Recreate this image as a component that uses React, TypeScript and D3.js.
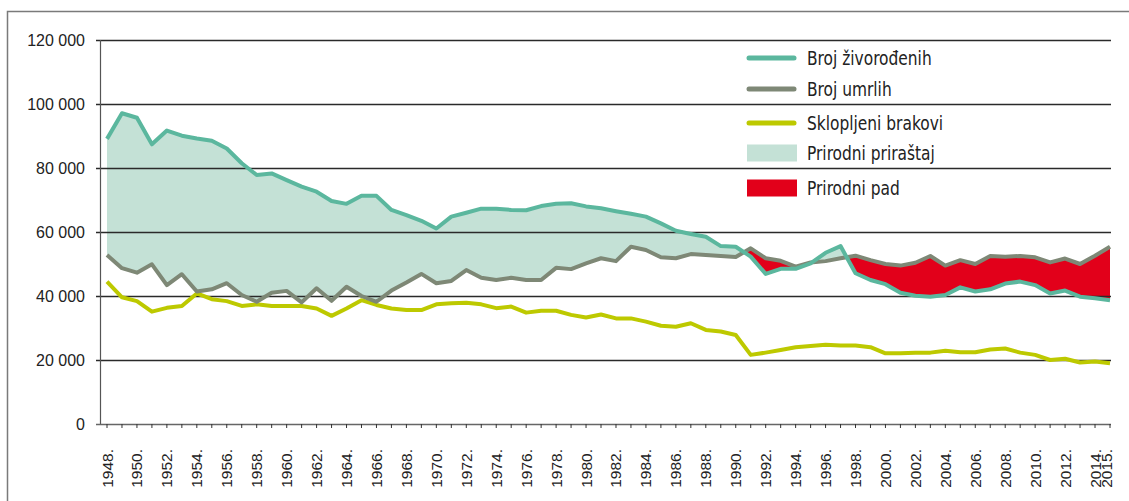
import React from "react";
import * as d3 from "d3";

const years: number[] = d3.range(1948, 2016);

const births: number[] = [
  89100, 97100, 95700, 87400, 91700, 90100, 89200, 88500, 86100, 81500,
  77800, 78300, 76200, 74200, 72600, 69700, 68800, 71300, 71300, 66900,
  65300, 63500, 61100, 64800, 66000, 67300, 67300, 66900, 66800, 68100,
  68800, 69000, 68000, 67400, 66500, 65700, 64800, 62700, 60400, 59400,
  58500, 55600, 55400, 52300, 46900, 48500, 48500, 50200, 53500, 55600,
  47100, 45000, 43700, 41000, 40100, 39800, 40300, 42700, 41400, 42100,
  43900, 44500, 43400, 40800, 41700, 39800, 39300, 38700,
];

const deaths: number[] = [
  52800, 48700, 47300, 49900, 43400, 46800, 41400, 42100, 44000, 40300,
  38200, 41000, 41600, 38000, 42400, 38500, 42900, 40000, 38200, 41700,
  44200, 46900, 44000, 44700, 48100, 45700, 45000, 45700, 45000, 45000,
  48800, 48400, 50200, 51800, 50900, 55400, 54400, 52100, 51800, 53100,
  52800, 52500, 52200, 54900, 51800, 51000, 49200, 50500, 50900, 51800,
  52600, 51200, 50000, 49500, 50400, 52500, 49500, 51200, 50000, 52500,
  52300, 52500, 52100, 50500, 51700, 50000, 52600, 55400,
];

const marriages: number[] = [
  44500, 39600, 38400, 35100, 36300, 36900, 40800, 39000, 38400, 36900,
  37400, 36900, 36900, 36900, 36100, 33800, 36100, 38700, 37200, 36100,
  35600, 35600, 37400, 37700, 37900, 37400, 36200, 36700, 34800, 35400,
  35400, 34100, 33300, 34200, 33000, 33000, 32000, 30700, 30400, 31500,
  29400, 28900, 27800, 21600, 22300, 23100, 24000, 24400, 24800, 24500,
  24500, 24000, 22100, 22100, 22300, 22300, 22900, 22400, 22400, 23300,
  23600, 22300, 21600, 20000, 20400, 19200, 19500, 19000,
];

const yTicks: number[] = [0, 20000, 40000, 60000, 80000, 100000, 120000];
const xLabelYears: number[] = [...d3.range(1948, 2015, 2), 2015];

const legendLines = [
  { label: "Broj živorođenih", color: "#5bb79e" },
  { label: "Broj umrlih", color: "#7e8876" },
  { label: "Sklopljeni brakovi", color: "#bdc900" },
];
const legendAreas = [
  { label: "Prirodni priraštaj", color: "#c4e1d6" },
  { label: "Prirodni pad", color: "#e2001a" },
];

const W = 1129;
const H = 501;
const plotLeft = 100;
const plotRight = 1111;
const plotTop = 40;
const plotBottom = 424;

export default function App() {
  const x = d3.scaleLinear().domain([1948, 2015]).range([107, 1110]);
  const y = d3.scaleLinear().domain([0, 120000]).range([plotBottom, plotTop]);

  const lineGen = (vals: number[]) =>
    d3
      .line<number>()
      .x((_, i) => x(years[i]))
      .y((d) => y(d))(vals) || "";

  const between =
    d3
      .area<number>()
      .x((_, i) => x(years[i]))
      .y0((_, i) => y(deaths[i]))
      .y1((d) => y(d))(births) || "";

  const clipAbove =
    d3
      .area<number>()
      .x((_, i) => x(years[i]))
      .y0(() => 0)
      .y1((d) => y(d))(deaths) || "";
  const clipBelow =
    d3
      .area<number>()
      .x((_, i) => x(years[i]))
      .y0(() => H)
      .y1((d) => y(d))(deaths) || "";

  const axisFont = "'Liberation Sans', Arial, Helvetica, sans-serif";
  const legendFont =
    "'Liberation Sans Narrow', 'Arial Narrow', 'DejaVu Sans Condensed', sans-serif";

  const legendItems = [
    ...legendLines.map((d) => ({ ...d, kind: "line" })),
    ...legendAreas.map((d) => ({ ...d, kind: "area" })),
  ];
  const legendY = [58, 89, 123, 153, 188];

  return (
    <svg
      width={W}
      height={H}
      style={{ position: "absolute", left: 0, top: 0, background: "#fff" }}
    >
      <defs>
        <clipPath id="above">
          <path d={clipAbove} />
        </clipPath>
        <clipPath id="below">
          <path d={clipBelow} />
        </clipPath>
      </defs>
      <rect x={0} y={0} width={W} height={H} fill="#fff" />
      {/* frame */}
      <path d={`M7.5,${H} L7.5,11.5 L${W},11.5`} fill="none" stroke="#7a7a7a" strokeWidth={1.5} />

      {/* fills */}
      <path d={between} fill="#c4e1d6" clipPath="url(#above)" />
      <path d={between} fill="#e2001a" clipPath="url(#below)" />

      {/* gridlines */}
      {yTicks.map((t) =>
        t === 0 ? null : (
          <line
            key={t}
            x1={96}
            x2={plotRight}
            y1={Math.round(y(t)) + 0.5}
            y2={Math.round(y(t)) + 0.5}
            stroke="#2a2a2a"
            strokeWidth={1.4}
          />
        )
      )}
      {/* y axis */}
      <line x1={plotLeft + 0.5} x2={plotLeft + 0.5} y1={plotTop} y2={plotBottom} stroke="#555" strokeWidth={1.2} />
      {/* x axis */}
      <line x1={96} x2={plotRight} y1={plotBottom + 0.5} y2={plotBottom + 0.5} stroke="#666" strokeWidth={1.3} />
      {years.map((yr) => (
        <line
          key={yr}
          x1={x(yr)}
          x2={x(yr)}
          y1={plotBottom}
          y2={plotBottom + 4}
          stroke="#333"
          strokeWidth={1}
        />
      ))}
      {yTicks.map((t) => (
        <text
          key={t}
          x={85}
          y={y(t)}
          textAnchor="end"
          dominantBaseline="central"
          fontFamily={axisFont}
          fontSize={16}
          fill="#222"
        >
          {d3.format(",")(t).replace(/,/g, " ")}
        </text>
      ))}
      {xLabelYears.map((yr) => (
        <text
          key={yr}
          transform={`translate(${x(yr) - (yr === 2015 ? 4 : 0)},449) rotate(-90)`}
          textAnchor="end"
          dominantBaseline="central"
          fontFamily={axisFont}
          fontSize={15.5}
          fill="#222"
        >
          {yr + "."}
        </text>
      ))}

      {/* lines */}
      <path d={lineGen(marriages)} fill="none" stroke="#bdc900" strokeWidth={4} strokeLinejoin="round" />
      <path d={lineGen(deaths)} fill="none" stroke="#7e8876" strokeWidth={4} strokeLinejoin="round" />
      <path d={lineGen(births)} fill="none" stroke="#5bb79e" strokeWidth={4} strokeLinejoin="round" />

      {/* legend */}
      {legendItems.map((d, i) => (
        <g key={d.label} transform={`translate(0,${legendY[i]})`}>
          {d.kind === "line" ? (
            <line x1={749} x2={794} y1={0} y2={0} stroke={d.color} strokeWidth={5} strokeLinecap="round" />
          ) : (
            <rect x={747} y={-8.5} width={50} height={17} fill={d.color} />
          )}
          <text
            transform="translate(807,0) scale(0.88,1)"
            x={0}
            y={0}
            dominantBaseline="central"
            fontFamily={legendFont}
            fontSize={19.5}
            fill="#222"
          >
            {d.label}
          </text>
        </g>
      ))}
    </svg>
  );
}
